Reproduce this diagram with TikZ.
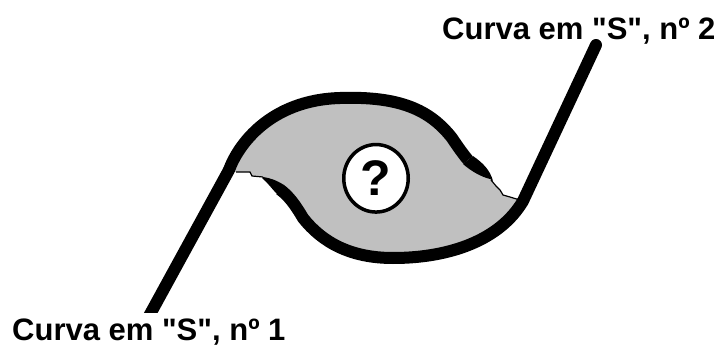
\documentclass[tikz,border=0pt]{standalone}
\usepackage{fontspec}
\setmainfont{Liberation Sans}
\newfontfamily\lblfont{Liberation Sans}
\usetikzlibrary{shapes.geometric}
\definecolor{fillgray}{RGB}{192,192,192}
\begin{document}
\begin{tikzpicture}[x=1pt,y=-1pt,
  thickline/.style={line width=12pt, line join=round},
  thinedge/.style={line width=1.2pt},
  labeltext/.style={font=\lblfont\fontsize{31}{31}\selectfont\bfseries, inner sep=0pt, anchor=base west},
  qmark/.style={ellipse, draw, line width=3.5pt, fill=white, inner sep=0pt,
    minimum width=64.5pt, minimum height=67.5pt, font=\fontsize{50}{50}\selectfont\bfseries}]
\useasboundingbox (0,0) rectangle (723,345);
% key points
\coordinate (s1bot) at (148,318);
\coordinate (s1joint) at (229,170);
\coordinate (s1end) at (468,160);
\coordinate (s1tip) at (491,180);
\coordinate (s2top) at (596,45);
\coordinate (s2joint) at (523,201);
\coordinate (s2end) at (280,189.5);
\coordinate (s2tip) at (263,177);
% gray fill
\fill[fillgray] (s1joint) .. controls (238,145) and (270,100) .. (340,98)
  .. controls (400,96) and (430,110) .. (452,138)
  .. controls (458,147) and (463,154) .. (s1end)
  -- (s1tip) -- (496,186) -- (500,190) -- (503,195) -- (510,197) -- (s2joint)
  .. controls (500,240) and (450,258) .. (393,258)
  .. controls (350,258) and (322,242) .. (303,218)
  .. controls (296,206) and (289,196) .. (s2end)
  -- (s2tip) -- (252,176) -- (250,172) -- (236,172) -- cycle;
% thin ragged edges
\draw[thinedge] (s1tip) -- (496,186) -- (500,190) -- (503,195) -- (510,197) -- (s2joint);
\draw[thinedge] (s2tip) -- (252,176) -- (250,172) -- (236,172);
% S curve 1
\begin{scope}
  \clip (0,0) rectangle (723,312);
  \draw[thickline, line cap=round] (s1bot) -- (s1joint);
\end{scope}
\draw[thickline] (s1joint) .. controls (238,145) and (270,100) .. (340,98)
  .. controls (400,96) and (430,110) .. (452,138)
  .. controls (458,147) and (463,154) .. (s1end);
\fill (473,156) .. controls (483,163) and (490,170) .. (493,181)
  -- (490,179) .. controls (482,177) and (472,172) .. (463,164) -- cycle;
% S curve 2
\draw[thickline, line cap=round] (s2top) -- (s2joint);
\draw[thickline] (s2joint) .. controls (500,240) and (450,258) .. (393,258)
  .. controls (350,258) and (322,242) .. (303,218)
  .. controls (296,206) and (289,196) .. (s2end);
\fill (284,185) .. controls (276,180) and (270,178) .. (s2tip)
  -- (262,178) .. controls (268,183) and (272,189) .. (277,194) -- cycle;
% question mark
\node[qmark] (q) at (376,178.3) {?};
% labels
\node[labeltext] (lab2) at (442,40) {Curva em "S", nº 2};
\node[labeltext] (lab1) at (12,340) {Curva em "S", nº 1};
\end{tikzpicture}
\end{document}
